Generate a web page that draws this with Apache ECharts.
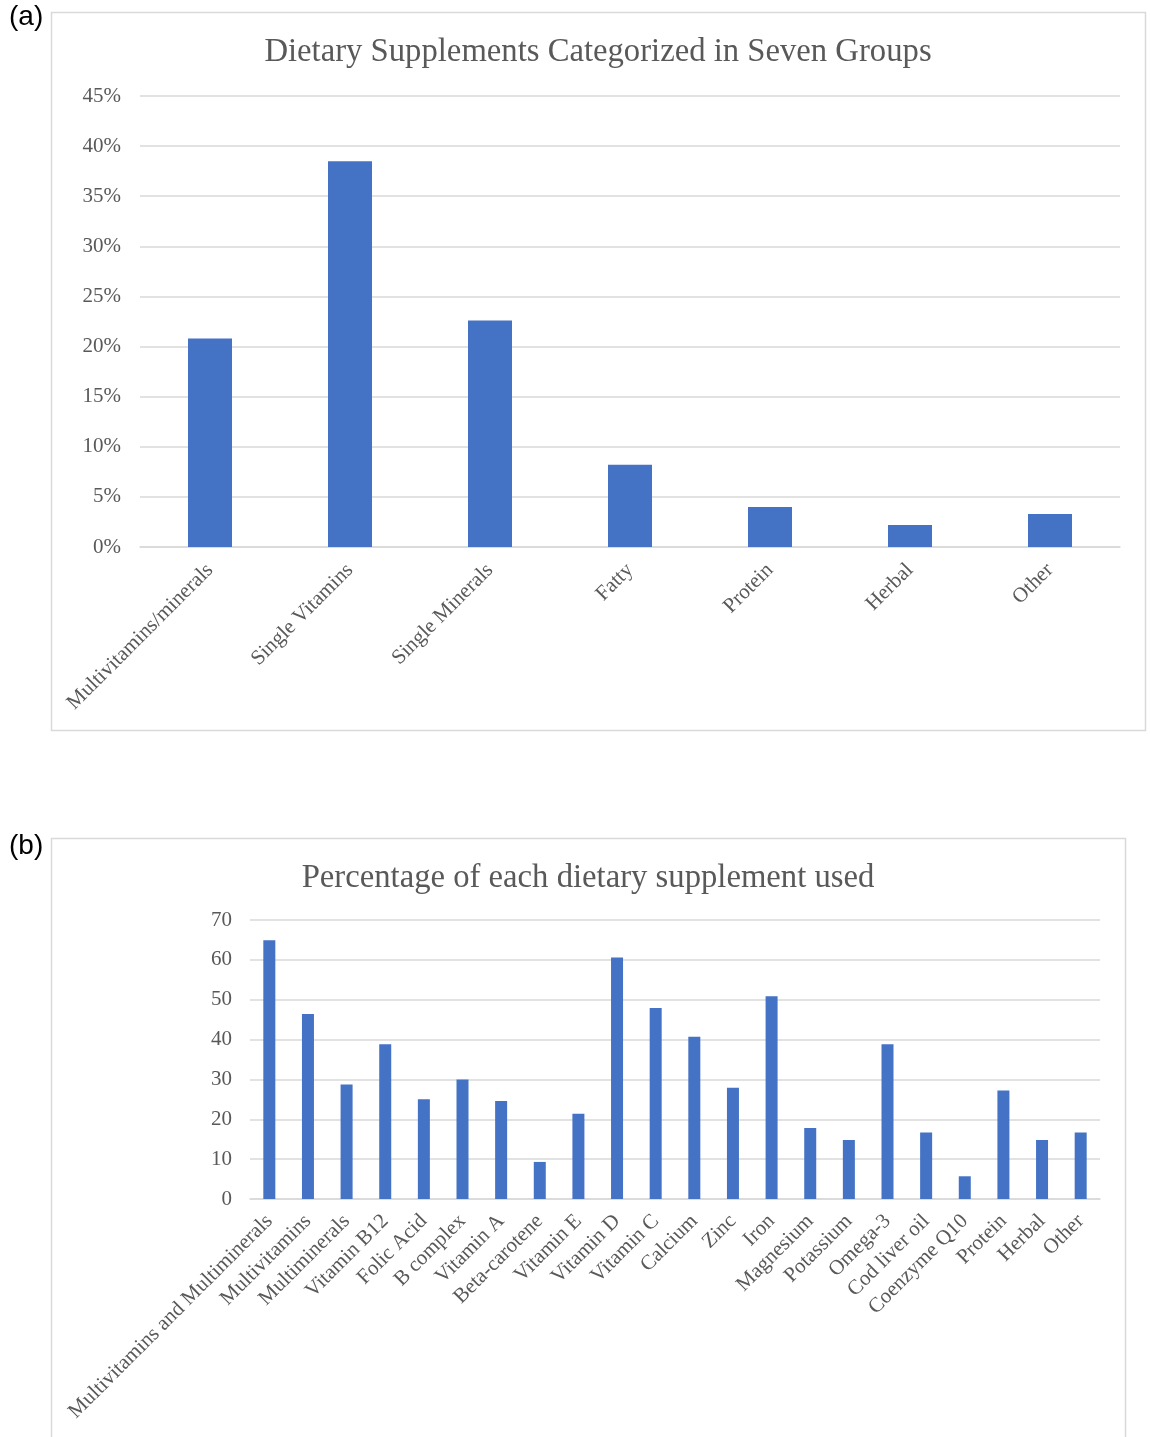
<!DOCTYPE html>
<html>
<head>
<meta charset="utf-8">
<script src="https://cdn.jsdelivr.net/npm/echarts@6/dist/echarts.min.js"></script>
<style>
  html, body { margin: 0; padding: 0; background: #ffffff; }
  #chart { width: 1150px; height: 1437px; }
</style>
</head>
<body>
<div id="chart"></div>
<script>
// Panel (a): supplement groups, share of users (%)
const groupCategories = ['Multivitamins/minerals', 'Single Vitamins', 'Single Minerals', 'Fatty', 'Protein', 'Herbal', 'Other'];
const groupShares = [20.8, 38.5, 22.6, 8.2, 4.0, 2.2, 3.3];
const groupTicks = ['0%', '5%', '10%', '15%', '20%', '25%', '30%', '35%', '40%', '45%'];

// Panel (b): percentage of each individual supplement used
const supplementCategories = ['Multivitamins and Multiminerals', 'Multivitamins', 'Multiminerals', 'Vitamin B12', 'Folic Acid', 'B complex', 'Vitamin A', 'Beta-carotene', 'Vitamin E', 'Vitamin D', 'Vitamin C', 'Calcium', 'Zinc', 'Iron', 'Magnesium', 'Potassium', 'Omega-3', 'Cod liver oil', 'Coenzyme Q10', 'Protein', 'Herbal', 'Other'];
const supplementValues = [64.9, 46.4, 28.7, 38.8, 25.0, 30.0, 24.6, 9.3, 21.4, 60.6, 47.9, 40.7, 27.9, 50.9, 17.8, 14.8, 38.8, 16.7, 5.7, 27.2, 14.8, 16.7];

const serif = '"Liberation Serif", "Times New Roman", serif';
const textGray = '#595959';
const lineGray = '#d9d9d9';
const barBlue = '#4472C4';

const chart = echarts.init(document.getElementById('chart'), null, { renderer: 'canvas' });

chart.setOption({
  animation: false,
  backgroundColor: '#ffffff',
  title: [
    {
      text: 'Dietary Supplements Categorized in Seven Groups',
      left: 593, top: 31, textAlign: 'center',
      textStyle: { fontFamily: serif, fontSize: 32.7, fontWeight: 'normal', color: textGray }
    },
    {
      text: 'Percentage of each dietary supplement used',
      left: 583, top: 857, textAlign: 'center',
      textStyle: { fontFamily: serif, fontSize: 32.7, fontWeight: 'normal', color: textGray }
    }
  ],
  graphic: [
    { type: 'rect', shape: { x: 51.5, y: 12.5, width: 1094, height: 718 }, style: { fill: 'none', stroke: lineGray, lineWidth: 1.5 }, z: -1 },
    { type: 'rect', shape: { x: 51.5, y: 838.5, width: 1074, height: 640 }, style: { fill: 'none', stroke: lineGray, lineWidth: 1.5 }, z: -1 },
    { type: 'text', left: 9, top: 3, style: { text: '(a)', font: '28px "Liberation Sans", Arial, sans-serif', fill: '#000000' } },
    { type: 'text', left: 9, top: 832, style: { text: '(b)', font: '28px "Liberation Sans", Arial, sans-serif', fill: '#000000' } }
  ],
  grid: [
    { left: 140, right: 30, top: 96, bottom: 890, containLabel: false },
    { left: 250, right: 50, top: 920, bottom: 238, containLabel: false }
  ],
  xAxis: [
    {
      type: 'category', gridIndex: 0, data: groupCategories,
      axisLine: { lineStyle: { color: lineGray, width: 1.5 } },
      axisTick: { show: false },
      axisLabel: { rotate: 45, margin: 20, interval: 0, fontFamily: serif, fontSize: 21, color: textGray }
    },
    {
      type: 'category', gridIndex: 1, data: supplementCategories,
      axisLine: { lineStyle: { color: lineGray, width: 1.5 } },
      axisTick: { show: false },
      axisLabel: { rotate: 45, margin: 19, interval: 0, fontFamily: serif, fontSize: 21, color: textGray }
    }
  ],
  yAxis: [
    {
      type: 'value', gridIndex: 0, min: 0, max: 45, interval: 5,
      axisLine: { show: false }, axisTick: { show: false },
      splitLine: { lineStyle: { color: lineGray, width: 1.5 } },
      axisLabel: {
        margin: 19, fontFamily: serif, fontSize: 21, color: textGray,
        formatter: (v) => groupTicks[Math.round(v / 5)]
      }
    },
    {
      type: 'value', gridIndex: 1, min: 0, max: 70, interval: 10,
      axisLine: { show: false }, axisTick: { show: false },
      splitLine: { lineStyle: { color: lineGray, width: 1.5 } },
      axisLabel: { margin: 18, fontFamily: serif, fontSize: 21, color: textGray }
    }
  ],
  series: [
    {
      type: 'bar', xAxisIndex: 0, yAxisIndex: 0, data: groupShares,
      barWidth: 44, itemStyle: { color: barBlue }
    },
    {
      type: 'bar', xAxisIndex: 1, yAxisIndex: 1, data: supplementValues,
      barWidth: 12, itemStyle: { color: barBlue }
    }
  ]
});
</script>
</body>
</html>
